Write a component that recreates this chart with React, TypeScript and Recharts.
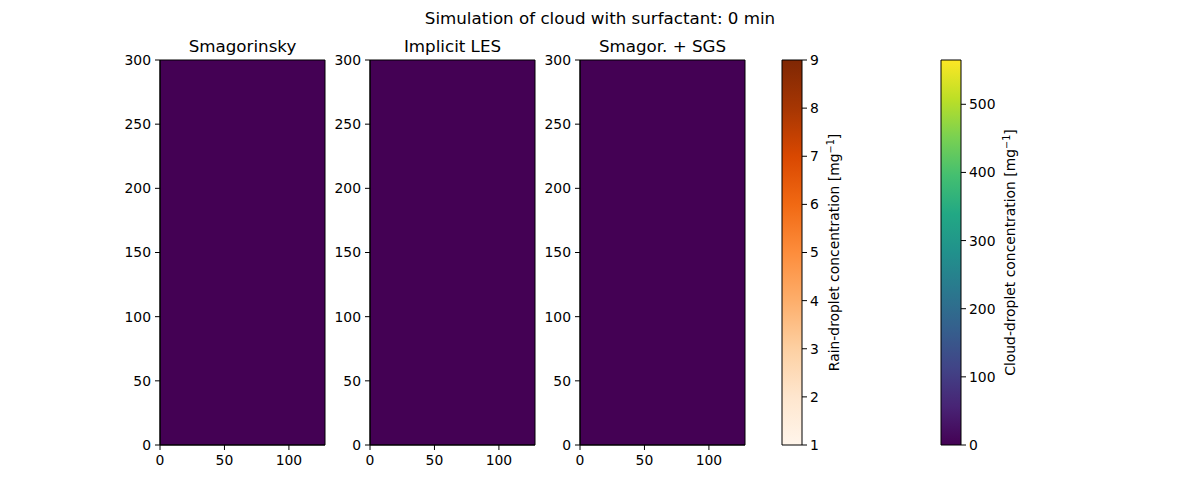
import { ComposedChart, XAxis, YAxis, ReferenceArea } from 'recharts';

// figure text
const SUPTITLE = 'Simulation of cloud with surfactant: 0 min';
const PANEL_TITLES = ['Smagorinsky', 'Implicit LES', 'Smagor. + SGS'];

// the cloud field at t = 0 is uniform zero in every simulation
const CLOUD_VALUES = [0, 0, 0];

// domain of each panel (grid cells in x, height in y)
const X_DOMAIN = [0, 128];
const Y_DOMAIN = [0, 300];
const X_TICKS = [0, 50, 100];
const Y_TICKS = [0, 50, 100, 150, 200, 250, 300];

// colorbars
const RAIN_RANGE = [1, 9];
const RAIN_TICKS = [1, 2, 3, 4, 5, 6, 7, 8, 9];
const CLOUD_RANGE = [0, 565];
const CLOUD_TICKS = [0, 100, 200, 300, 400, 500];

const VIRIDIS = ['#440154', '#482475', '#414487', '#355f8d', '#2a788e', '#21918c', '#22a884', '#44bf70', '#7ad151', '#bddf26', '#fde725'];
const ORANGES = ['#fff5eb', '#fee6ce', '#fdd0a2', '#fdae6b', '#fd8d3c', '#f16913', '#d94801', '#a63603', '#7f2704'];

const FONT = 'DejaVu Sans, sans-serif';
const W = 1200;
const H = 500;
const PLOT_TOP = 60;
const PLOT_BOTTOM = 445;
const PANEL_LEFT = [160, 370, 580];
const PANEL_W = 165;
const CBAR_LEFT = [782, 941];
const CBAR_W = 20;

const tickStyle = { fill: '#000', fontSize: 13.9, fontFamily: FONT };

const viridisAt = (v: number) => {
  const t = (v - CLOUD_RANGE[0]) / (CLOUD_RANGE[1] - CLOUD_RANGE[0]);
  return VIRIDIS[Math.round(Math.max(0, Math.min(1, t)) * (VIRIDIS.length - 1))];
};

const Layer = ({ children }: { children: React.ReactNode }) => (
  <div style={{ position: 'absolute', left: 0, top: 0 }}>{children}</div>
);

const Panel = ({ index }: { index: number }) => {
  const left = PANEL_LEFT[index];
  return (
    <Layer>
      <ComposedChart
        width={W}
        height={H}
        margin={{ top: PLOT_TOP, left: left - 45, right: W - left - PANEL_W, bottom: H - PLOT_BOTTOM - 30 }}
      >
        <XAxis
          type="number"
          dataKey="x"
          domain={X_DOMAIN}
          ticks={X_TICKS}
          allowDataOverflow
          height={30}
          tick={tickStyle}
          tickSize={5}
          tickMargin={5}
          axisLine={{ stroke: '#000' }}
          tickLine={{ stroke: '#000' }}
        />
        <YAxis
          type="number"
          domain={Y_DOMAIN}
          ticks={Y_TICKS}
          allowDataOverflow
          width={45}
          tick={tickStyle}
          tickSize={5}
          tickMargin={4}
          axisLine={{ stroke: '#000' }}
          tickLine={{ stroke: '#000' }}
        />
        <ReferenceArea
          x1={X_DOMAIN[0]}
          x2={X_DOMAIN[1]}
          y1={Y_DOMAIN[0]}
          y2={Y_DOMAIN[1]}
          fill={viridisAt(CLOUD_VALUES[index])}
          fillOpacity={1}
          stroke="#000"
          strokeWidth={1}
        />
      </ComposedChart>
    </Layer>
  );
};

const ColorBar = ({ left, range, ticks, colors, id }: { left: number; range: number[]; ticks: number[]; colors: string[]; id: string }) => (
  <Layer>
    <ComposedChart
      width={W}
      height={H}
      margin={{ top: PLOT_TOP, left, right: W - left - CBAR_W - 50, bottom: H - PLOT_BOTTOM }}
    >
      <defs>
        <linearGradient id={id} x1="0" y1="1" x2="0" y2="0">
          {colors.map((c, i) => (
            <stop key={i} offset={`${(i / (colors.length - 1)) * 100}%`} stopColor={c} />
          ))}
        </linearGradient>
      </defs>
      <XAxis type="number" dataKey="x" domain={[0, 1]} allowDataOverflow hide />
      <YAxis
        type="number"
        orientation="right"
        domain={range}
        ticks={ticks}
        allowDataOverflow
        width={50}
        tick={tickStyle}
        tickSize={5}
        tickMargin={3}
        axisLine={false}
        tickLine={{ stroke: '#000' }}
      />
      <ReferenceArea
        x1={0}
        x2={1}
        y1={range[0]}
        y2={range[1]}
        fill={`url(#${id})`}
        fillOpacity={1}
        stroke="#000"
        strokeWidth={1}
      />
    </ComposedChart>
  </Layer>
);

const RotatedLabel = ({ x, text }: { x: number; text: string }) => (
  <text
    transform={`translate(${x}, ${(PLOT_TOP + PLOT_BOTTOM) / 2}) rotate(-90)`}
    textAnchor="middle"
    fontSize={13.9}
    fontFamily={FONT}
    fill="#000"
  >
    {text} [mg
    <tspan baselineShift="super" fontSize={9.7}>−1</tspan>]
  </text>
);

export default function App() {
  return (
    <div style={{ position: 'absolute', left: 0, top: 0, width: W, height: H, background: '#fff' }}>
      {PANEL_TITLES.map((_, i) => (
        <Panel key={i} index={i} />
      ))}
      <ColorBar left={CBAR_LEFT[0]} range={RAIN_RANGE} ticks={RAIN_TICKS} colors={ORANGES} id="oranges" />
      <ColorBar left={CBAR_LEFT[1]} range={CLOUD_RANGE} ticks={CLOUD_TICKS} colors={VIRIDIS} id="viridis" />
      <Layer>
        <svg width={W} height={H}>
          <text x={600} y={24} textAnchor="middle" fontSize={16.7} fontFamily={FONT} fill="#000">
            {SUPTITLE}
          </text>
          {PANEL_TITLES.map((t, i) => (
            <text
              key={t}
              x={PANEL_LEFT[i] + PANEL_W / 2}
              y={52}
              textAnchor="middle"
              fontSize={16.7}
              fontFamily={FONT}
              fill="#000"
            >
              {t}
            </text>
          ))}
          <RotatedLabel x={839} text="Rain-droplet concentration" />
          <RotatedLabel x={1015} text="Cloud-droplet concentration" />
        </svg>
      </Layer>
    </div>
  );
}
